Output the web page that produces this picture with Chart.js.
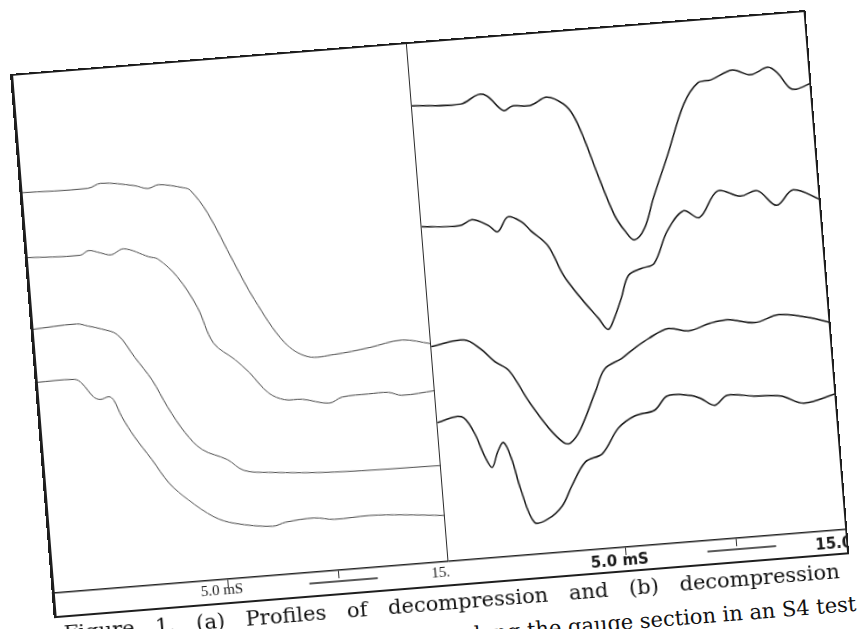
<!DOCTYPE html>
<html>
<head>
<meta charset="utf-8">
<script src="https://cdn.jsdelivr.net/npm/chart.js@4.4.1/dist/chart.umd.min.js"></script>
<style>
    html, body { margin: 0; padding: 0; background: #fff; width: 858px; height: 629px; overflow: hidden; }
    /* the scanned figure sits slightly tilted on the page */
    #sheet { position: absolute; left: 10px; top: 74px; width: 800px; height: 620px; transform-origin: 0 0; transform: rotate(-4.6deg); }
    #sheet canvas { position: absolute; top: 0; }
    #frame { position: absolute; left: 0; top: 0; width: 798px; height: 546px; box-sizing: border-box; border: 2px solid #1e1e1e; border-left-width: 3px; pointer-events: none; }
    #divider { position: absolute; left: 397px; top: 0; width: 0; height: 521px; border-left: 1.5px solid #2a2a2a; }
    .caption { position: absolute; font-family: "DejaVu Serif", serif; font-size: 21px; line-height: 1; color: #111; }
    #cap1 { left: 9px; top: 552px; width: 778px; text-align: justify; text-align-last: justify; }
    #cap2 { right: -1px; top: 586px; white-space: nowrap; text-align: right; }
</style>
</head>
<body>
<div id="sheet">
    <canvas id="panel-a" width="398" height="546" style="left:0"></canvas>
    <canvas id="panel-b" width="400" height="546" style="left:398px"></canvas>
    <div id="divider"></div>
    <div id="frame"></div>
    <div class="caption" id="cap1">Figure 1. (a) Profiles of decompression and (b) decompression</div>
    <div class="caption" id="cap2">along the gauge section in an S4 test</div>
</div>
<script>
// time axis (ms)
const TIME_MIN = -3, TIME_MAX = 15;
const TIME_TICKS = [5, 10];
const TICK_LABELS = ['5.0 mS', ''];
const END_LABEL = '15.0';
const SCALE_BAR = [8.65, 11.75];

// (a) decompression profiles, [time, trace level], top to bottom
const a1 = [[-3,40.1],[0.1,40.0],[0.7,40.4],[2.2,39.9],[2.8,39.5],[3.3,39.8],[4.4,39.3],[4.7,39.0],[5.4,36.6],[6.4,31.5],[7.2,27.6],[8.4,23.1],[9.4,21.5],[10.6,21.5],[12.2,21.9],[13.7,22.4],[15,21.8]];
const a2 = [[-3,33.6],[-0.5,33.4],[-0.1,33.8],[0.4,33.5],[0.9,33.2],[1.5,33.7],[2.6,32.7],[3.0,32.4],[3.8,30.5],[4.6,27.3],[5.2,23.6],[6.1,21.8],[6.7,20.4],[7.5,18.2],[8.2,17.4],[9.0,17.3],[10.2,16.7],[10.8,17.2],[12.0,17.3],[12.9,17.3],[13.5,16.9],[15,17.1]];
const a3 = [[-3,26.4],[-0.9,26.6],[-0.4,26.3],[0.2,25.9],[0.9,25.2],[1.6,22.8],[2.3,20.4],[2.9,17.6],[3.6,14.9],[4.3,13.1],[5.4,11.9],[6.1,10.7],[7.2,10.3],[10.2,9.8],[15,9.6]];
const a4 = [[-3,21.1],[-1.2,21.1],[-0.9,20.7],[-0.4,19.2],[-0.1,18.9],[0.3,19.1],[0.5,18.7],[0.8,17.0],[1.3,14.9],[2.0,12.5],[2.7,10.0],[3.5,8.2],[4.6,6.3],[5.5,5.5],[7.2,4.9],[7.8,5.2],[9.1,5.4],[10.0,5.1],[11.6,5.2],[13.1,5.0],[15,4.6]];

// (b) decompression profiles
const b1 = [[-3,45.6],[-0.8,45.4],[0.0,46.2],[0.4,46.0],[1.1,44.4],[1.5,44.8],[2.3,44.7],[3.1,45.4],[3.8,44.6],[4.2,43.4],[4.6,41.0],[5.1,37.2],[5.7,33.1],[6.1,31.5],[6.5,30.5],[7.0,31.6],[7.5,34.5],[8.3,38.7],[9.2,43.6],[9.9,45.6],[10.5,45.8],[11.5,46.6],[12.3,46.0],[13.1,46.6],[13.5,46.0],[14.0,44.4],[14.3,44.2],[15,44.7]];
const b2 = [[-3,33.5],[-1.3,33.3],[-0.7,33.8],[0.0,33.1],[0.4,32.4],[0.9,33.8],[1.5,33.2],[1.9,32.2],[2.6,30.6],[3.2,27.5],[3.9,25.1],[4.6,23.0],[5.0,21.8],[5.3,22.8],[5.7,24.8],[6.1,27.0],[6.7,27.6],[7.3,28.0],[8.0,31.1],[8.8,33.0],[9.5,32.2],[10.4,34.7],[11.4,34.0],[12.2,34.4],[13.0,32.8],[13.8,34.2],[15,33.0]];
const b3 = [[-3,21.5],[-1.5,21.9],[-0.8,20.9],[-0.2,19.5],[0.4,18.5],[1.2,15.2],[2.0,12.4],[2.6,10.9],[2.9,10.8],[3.4,12.1],[4.2,15.7],[4.7,17.9],[5.5,18.8],[6.1,19.7],[6.8,20.6],[7.7,21.4],[8.6,21.0],[9.6,21.6],[10.4,21.8],[11.6,21.3],[12.7,21.9],[14.0,21.4],[15,20.7]];
const b4 = [[-3,13.9],[-1.9,14.3],[-1.4,12.7],[-1.0,10.2],[-0.7,9.0],[-0.4,10.5],[-0.1,11.4],[0.2,9.7],[0.5,6.6],[1.0,3.2],[1.6,3.4],[2.3,4.6],[2.8,6.5],[3.5,8.8],[4.3,9.5],[5.1,11.9],[5.9,13.0],[6.8,13.4],[7.4,14.7],[8.4,14.6],[8.9,14.2],[9.5,13.4],[10.1,14.3],[11.3,14.0],[12.5,13.8],[13.5,12.9],[15,13.6]];

const LEVEL_MAX = 52;

// labels under the time axis: tick caption, scale bar, clipped end value
const stripPlugin = {
    id: 'strip',
    afterDraw(chart, args, opts) {
        const { ctx, chartArea, scales: { x } } = chart;
        const y = chartArea.bottom + opts.textOffset;
        ctx.save();
        ctx.fillStyle = '#1a1a1a';
        ctx.strokeStyle = '#222';
        ctx.lineWidth = 1.3;
        ctx.font = opts.font;
        ctx.textAlign = 'center';
        ctx.textBaseline = 'middle';
        TIME_TICKS.forEach((t, i) => {
            if (TICK_LABELS[i]) ctx.fillText(TICK_LABELS[i], x.getPixelForValue(t) - 7, y);
        });
        ctx.beginPath();
        ctx.moveTo(x.getPixelForValue(SCALE_BAR[0]), chartArea.bottom + 11);
        ctx.lineTo(x.getPixelForValue(SCALE_BAR[1]), chartArea.bottom + 11);
        ctx.stroke();
        ctx.beginPath();
        ctx.rect(chartArea.left, chartArea.bottom, chartArea.right - chartArea.left, 30);
        ctx.clip();
        ctx.textAlign = 'left';
        ctx.fillText(END_LABEL, chartArea.right - opts.endInset, y);
        ctx.restore();
    }
};

function toPoints(arr) {
    return arr.map(p => ({ x: p[0], y: p[1] }));
}

function makePanel(id, traces, color, width, font, endInset, textOffset) {
    return new Chart(document.getElementById(id), {
        type: 'line',
        data: {
            datasets: traces.map(t => ({
                data: toPoints(t),
                borderColor: color,
                borderWidth: width,
                pointRadius: 0,
                tension: 0.35,
                fill: false
            }))
        },
        options: {
            responsive: false,
            animation: false,
            layout: { padding: 0, autoPadding: false },
            plugins: {
                legend: { display: false },
                tooltip: { enabled: false },
                strip: { font: font, endInset: endInset, textOffset: textOffset }
            },
            scales: {
                x: {
                    type: 'linear',
                    min: TIME_MIN,
                    max: TIME_MAX,
                    afterBuildTicks: scale => { scale.ticks = TIME_TICKS.map(v => ({ value: v })); },
                    afterFit: scale => { scale.height = 25; },
                    ticks: { display: false },
                    grid: { drawOnChartArea: false, drawTicks: true, tickLength: 8, tickWidth: 1, tickColor: '#333', color: '#333' },
                    border: { display: true, color: '#222', width: 1.5 }
                },
                y: { display: false, min: 0, max: LEVEL_MAX }
            }
        },
        plugins: [stripPlugin]
    });
}

makePanel('panel-a', [a1, a2, a3, a4], '#4a4a4a', 1, '15px "Liberation Serif"', 18, 11);
makePanel('panel-b', [b1, b2, b3, b4], '#161616', 1.5, 'bold 15px "DejaVu Sans"', 33, 14);
</script>
</body>
</html>
